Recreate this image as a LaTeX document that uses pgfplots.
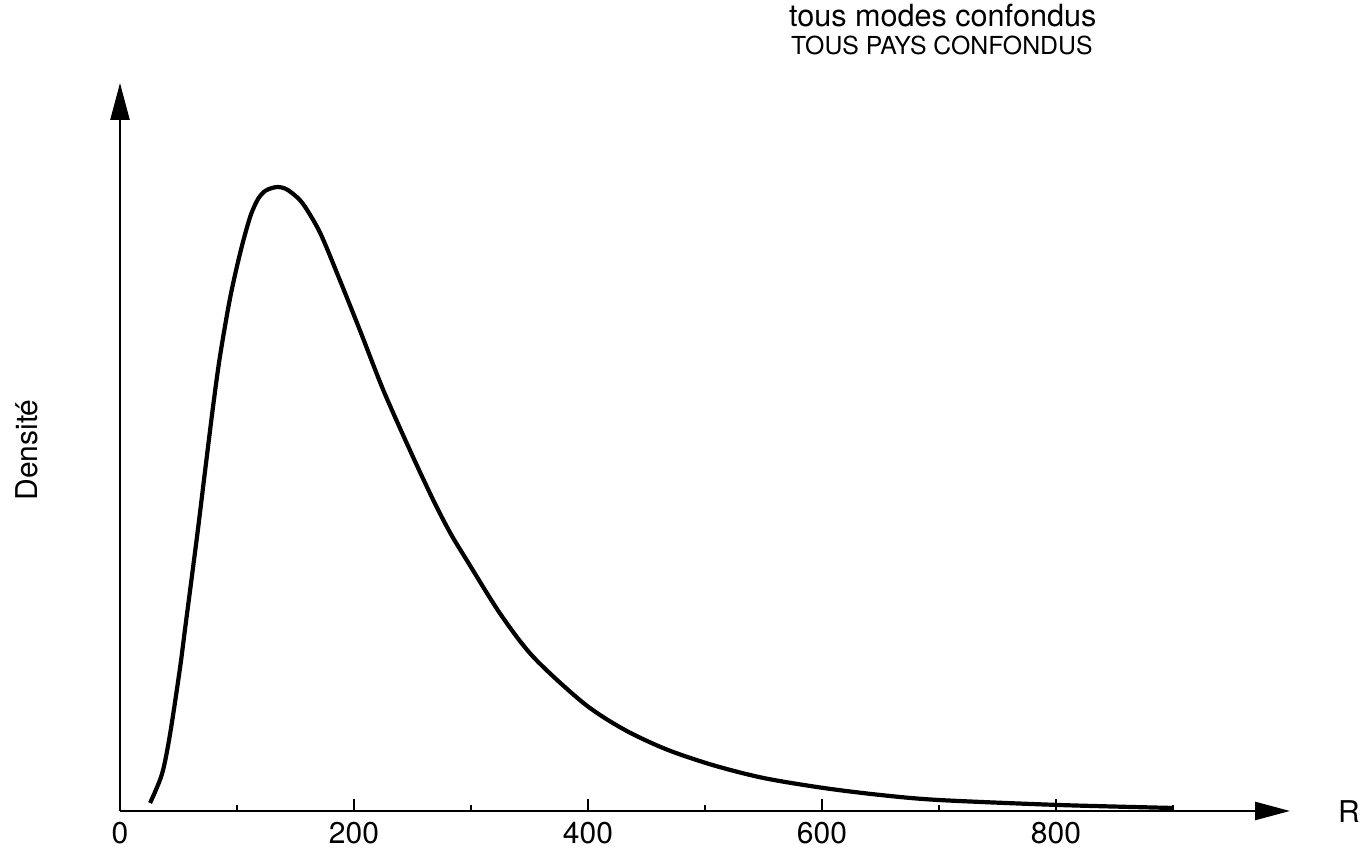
\documentclass[border=0pt]{standalone}
\usepackage{pgfplots}
\pgfplotsset{compat=1.18}
\usepackage{pgfplotstable}
\usepackage{fontspec}
\setmainfont{TeX Gyre Heros}
\usetikzlibrary{arrows.meta}

\pgfplotstableread{
x y
25.7 8
35.9 37
42.8 77
51.3 143
55.6 182
65.9 275
72.7 340
79.6 405
85.5 455
94.1 513
102.7 558
111.2 594
118.0 612
124.0 620
130.0 623
135.2 624
141.0 622.5
147.0 618
156.5 607
171.1 578
188.2 530
205.3 480
225.0 421
248.1 360
267.7 311
282.3 278
296.8 250
325.1 197
353.3 154
396.1 108
430.0 82
466.2 62
506.4 46
550.0 33
601.4 23
650.0 16
699.7 11
802.4 6
900.8 3
}\densdata

\begin{document}
\begin{tikzpicture}
\path[use as bounding box] (-60pt,-22pt) rectangle (623pt,405.5pt);
\begin{axis}[
  at={(0,0)}, anchor=origin,
  scale only axis,
  width=585pt, height=364pt,
  xmin=0, xmax=1000, ymin=0, ymax=728,
  axis x line=bottom, axis y line=left,
  x axis line style={line width=1.3pt,-{Triangle[length=17.5pt,width=9pt]}},
  y axis line style={line width=1.3pt,-{Triangle[length=18.5pt,width=9.5pt]}},
  xtick={0,200,400,600,800},
  minor xtick={100,300,500,700,900},
  ytick=\empty,
  tick align=inside,
  major tick length=6pt, minor tick length=3pt,
  every tick/.style={black, line width=1pt},
  xticklabel style={font=\fontsize{15}{18}\selectfont, yshift=-2pt},
  /pgf/number format/assume math mode=true,
  clip=false,
]
\addplot[black, line width=2.1pt, smooth] table {\densdata};
\end{axis}
\node[anchor=base west, font=\fontsize{15.3}{18}\selectfont] at (331pt,392pt) {tous modes confondus};
\node[anchor=base west, font=\fontsize{12.4}{14}\selectfont] at (332pt,378pt) {TOUS PAYS CONFONDUS};
\node[font=\fontsize{15}{18}\selectfont] at (614.5pt,-0.5pt) {R};
\node[rotate=90, font=\fontsize{15}{18}\selectfont] at (-46.5pt,180.5pt) {Densité};
\end{tikzpicture}
\end{document}
